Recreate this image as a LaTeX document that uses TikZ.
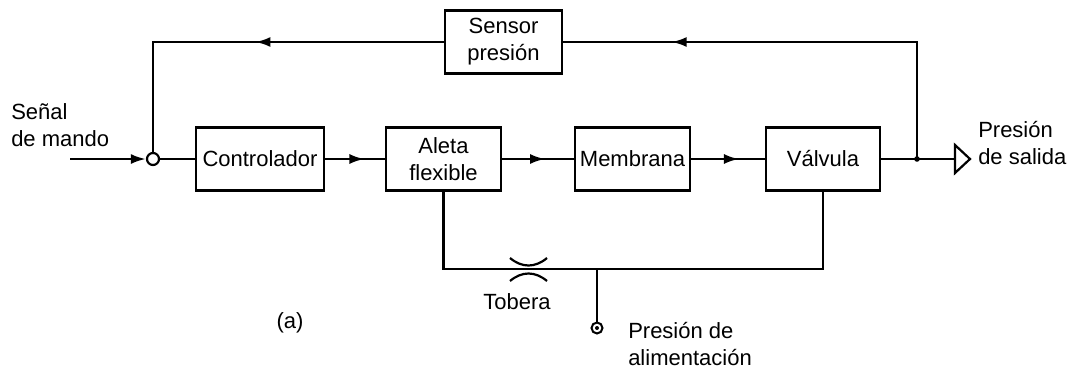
\documentclass[tikz,border=0pt]{standalone}
\usepackage{fontspec}
\setmainfont{Liberation Sans}
\usetikzlibrary{arrows.meta,decorations.markings}
\begin{document}
\begin{tikzpicture}[x=1pt,y=-1pt,
 font=\fontsize{22}{27}\selectfont,
 line width=2.5pt,
 blk/.style={draw,line width=2.8pt,minimum height=63pt,inner sep=0pt,align=center},
 lbl/.style={inner sep=0pt,align=left},
 tip/.style={-{Latex[length=15pt,width=10pt]}},
 midarrow/.style={postaction={decorate},decoration={markings,mark=at position #1 with {\arrow{Latex[length=15pt,width=10pt]}}}},
]
\useasboundingbox (0,0) rectangle (1070,370);
% blocks
\node[blk,minimum width=128pt] (ctrl) at (260,159) {Controlador};
\node[blk,minimum width=115pt] (aleta) at (443.5,159) {Aleta\\flexible};
\node[blk,minimum width=115pt] (memb) at (632.5,159) {Membrana};
\node[blk,minimum width=114pt] (valv) at (823,159) {Válvula};
\node[blk,minimum width=117pt] (sens) at (503.5,42) {Sensor\\presión};
% summing junction
\node[circle,draw,fill=white,minimum size=12pt,inner sep=0pt,line width=2.2pt] (sum) at (153,159) {};
\coordinate (in) at (70,159);
\draw[tip] (in) -- (sum);
\draw (sum) -- (ctrl);
\draw[midarrow=0.66] (ctrl) -- (aleta);
\draw[midarrow=0.6] (aleta) -- (memb);
\draw[midarrow=0.65] (memb) -- (valv);
% output
\coordinate (jn) at (917,159);
\coordinate (outp) at (955,159);
\draw (valv) -- (outp);
\fill (jn) circle (2.8pt);
\draw[line width=2.2pt,line join=miter] (outp) ++(0,-14) -- ++(15,14) -- ++(-15,14) -- cycle;
% feedback
\draw[midarrow=0.77] (jn) |- (sens.east);
\draw[midarrow=0.47] (sens.west) -| (sum.north);
% bottom supply loop
\coordinate (bl) at (aleta.south |- 0,269);
\coordinate (br) at (valv.south |- 0,269);
\draw (aleta.south) -- (bl) -- (br) -- (valv.south);
\coordinate (tee) at (597,269);
\node[circle,draw,minimum size=11pt,inner sep=0pt,line width=2pt] (sup) at (597,328) {};
\fill (sup.center) circle (2pt);
\draw (tee) -- (sup);
% nozzle
\draw[line width=2.2pt] (510,258) .. controls (522,268) and (535,268) .. (547,258);
\draw[line width=2.2pt] (510,281) .. controls (522,271) and (535,271) .. (547,281);
% labels
\node[lbl,anchor=west] (senal) at (10,125) {Señal\\de mando};
\node[lbl,anchor=west] (psal) at (977,143) {Presión\\de salida};
\node[lbl,anchor=west] (palim) at (627,344) {Presión de\\alimentación};
\node[inner sep=0pt] (tob) at (517,302) {Tobera};
\node[inner sep=0pt] (a) at (290,323) {(a)};
\end{tikzpicture}
\end{document}
